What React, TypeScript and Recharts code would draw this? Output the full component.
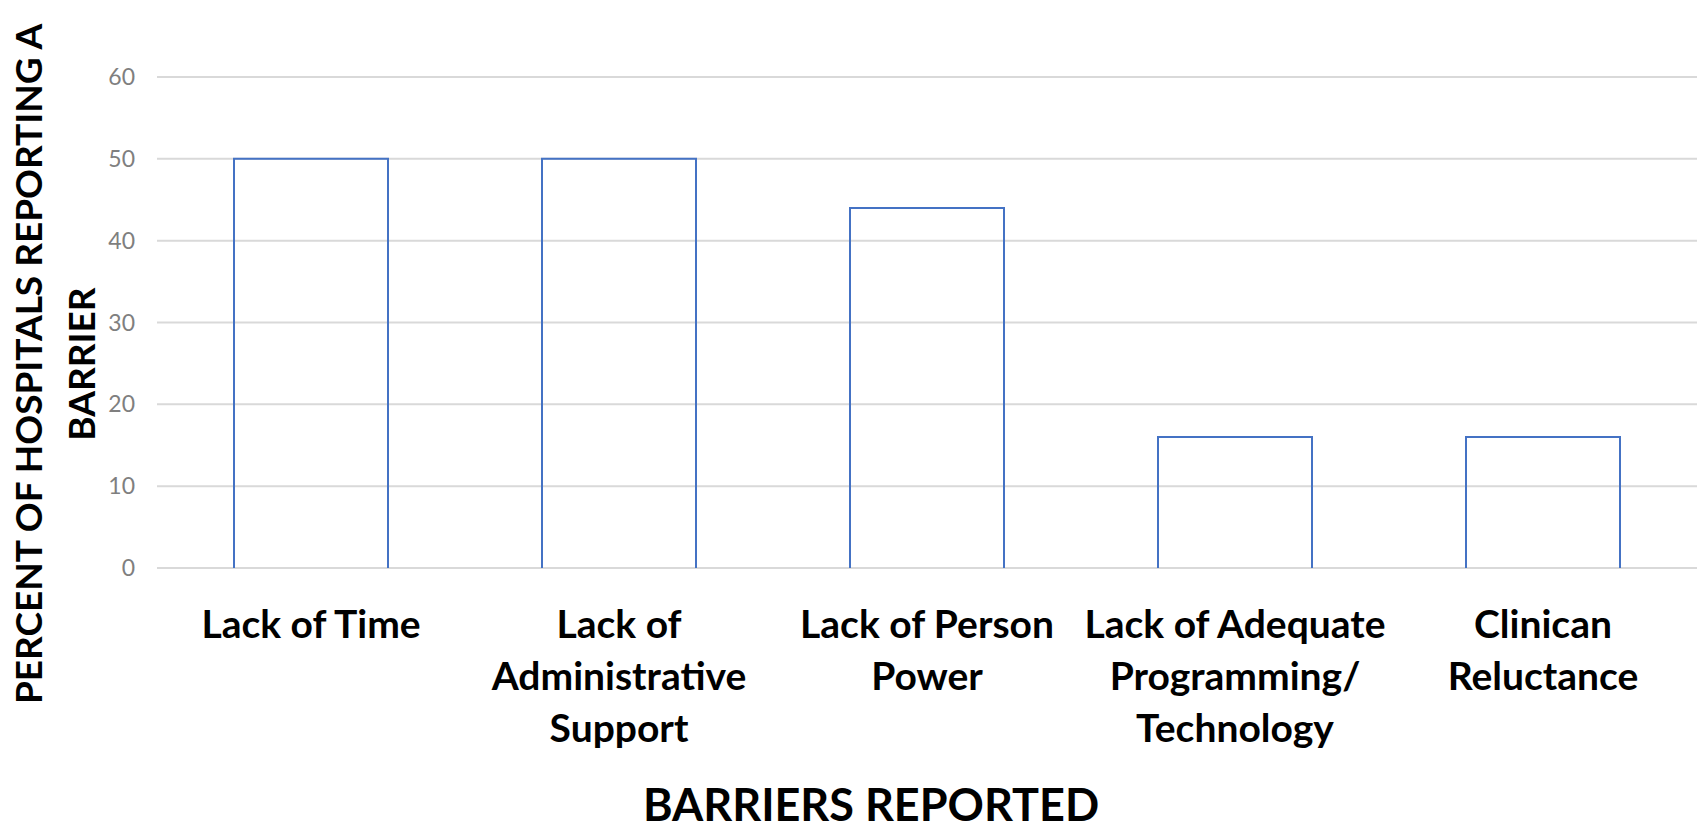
import { BarChart, Bar, XAxis, YAxis, CartesianGrid } from 'recharts';

// Survey results: share of hospitals naming each barrier
const categories = [
  'Lack of Time',
  'Lack of\nAdministrative\nSupport',
  'Lack of Person\nPower',
  'Lack of Adequate\nProgramming/\nTechnology',
  'Clinican\nReluctance',
];
const percentReporting = [50, 50, 44, 16, 16];
const yTicks = [0, 10, 20, 30, 40, 50, 60];
const yTitleLines = ['PERCENT OF HOSPITALS REPORTING A', 'BARRIER'];
const xTitle = 'BARRIERS REPORTED';

const data = categories.map((name, i) => ({ name, value: percentReporting[i] }));

const FONT = 'Lato, "Open Sans", sans-serif';
const BAR_BLUE = '#4472C4';

// multi-line bold category labels under the axis
const CategoryTick = ({ x, y, payload }: any) => {
  const lines = String(payload.value).split('\n');
  return (
    <text x={x} y={y} textAnchor="middle" fill="#000" fontFamily={FONT} fontWeight={700} fontSize={39}>
      {lines.map((line, i) => (
        <tspan key={i} x={x} dy={i === 0 ? 70 : 52}>
          {line}
        </tspan>
      ))}
    </text>
  );
};

// outlined bar, open at the baseline
const OpenBar = ({ x, y, width, height }: any) => {
  if (!height) return null;
  return (
    <path
      d={`M${x},${y + height}V${y}H${x + width}V${y + height}`}
      fill="none"
      stroke={BAR_BLUE}
      strokeWidth={2}
    />
  );
};

const YTitle = () => (
  <g transform="translate(42, 364) rotate(-90)">
    {yTitleLines.map((line, i) => (
      <text key={i} x={0} y={i * 53} textAnchor="middle" fill="#000" fontFamily={FONT} fontWeight={700} fontSize={37}>
        {line}
      </text>
    ))}
  </g>
);

const XTitle = () => (
  <text x={871} y={821} textAnchor="middle" fill="#000" fontFamily={FONT} fontWeight={700} fontSize={45}>
    {xTitle}
  </text>
);

const App = () => {
  return (
    <div style={{ width: 1697, height: 831, background: '#fff' }}>
      <style>{'html,body{margin:0;overflow:hidden;background:#fff}'}</style>
      <BarChart
        width={1697}
        height={831}
        data={data}
        margin={{ top: 77, right: 0, bottom: 0, left: 0 }}
        barCategoryGap="25%"
      >
        <CartesianGrid vertical={false} stroke="#d9d9d9" strokeWidth={2} />
        <XAxis
          dataKey="name"
          height={263}
          axisLine={false}
          tickLine={false}
          tickSize={0}
          tickMargin={0}
          interval={0}
          tick={<CategoryTick />}
          label={{ content: () => <XTitle /> }}
        />
        <YAxis
          width={157}
          domain={[0, 60]}
          ticks={yTicks}
          axisLine={false}
          tickLine={false}
          tickSize={0}
          tickMargin={22}
          tick={{ fill: '#7f7f7f', fontSize: 23, fontFamily: FONT }}
          label={{ content: () => <YTitle /> }}
        />
        <Bar dataKey="value" shape={<OpenBar />} isAnimationActive={false} />
      </BarChart>
    </div>
  );
};

export default App;
